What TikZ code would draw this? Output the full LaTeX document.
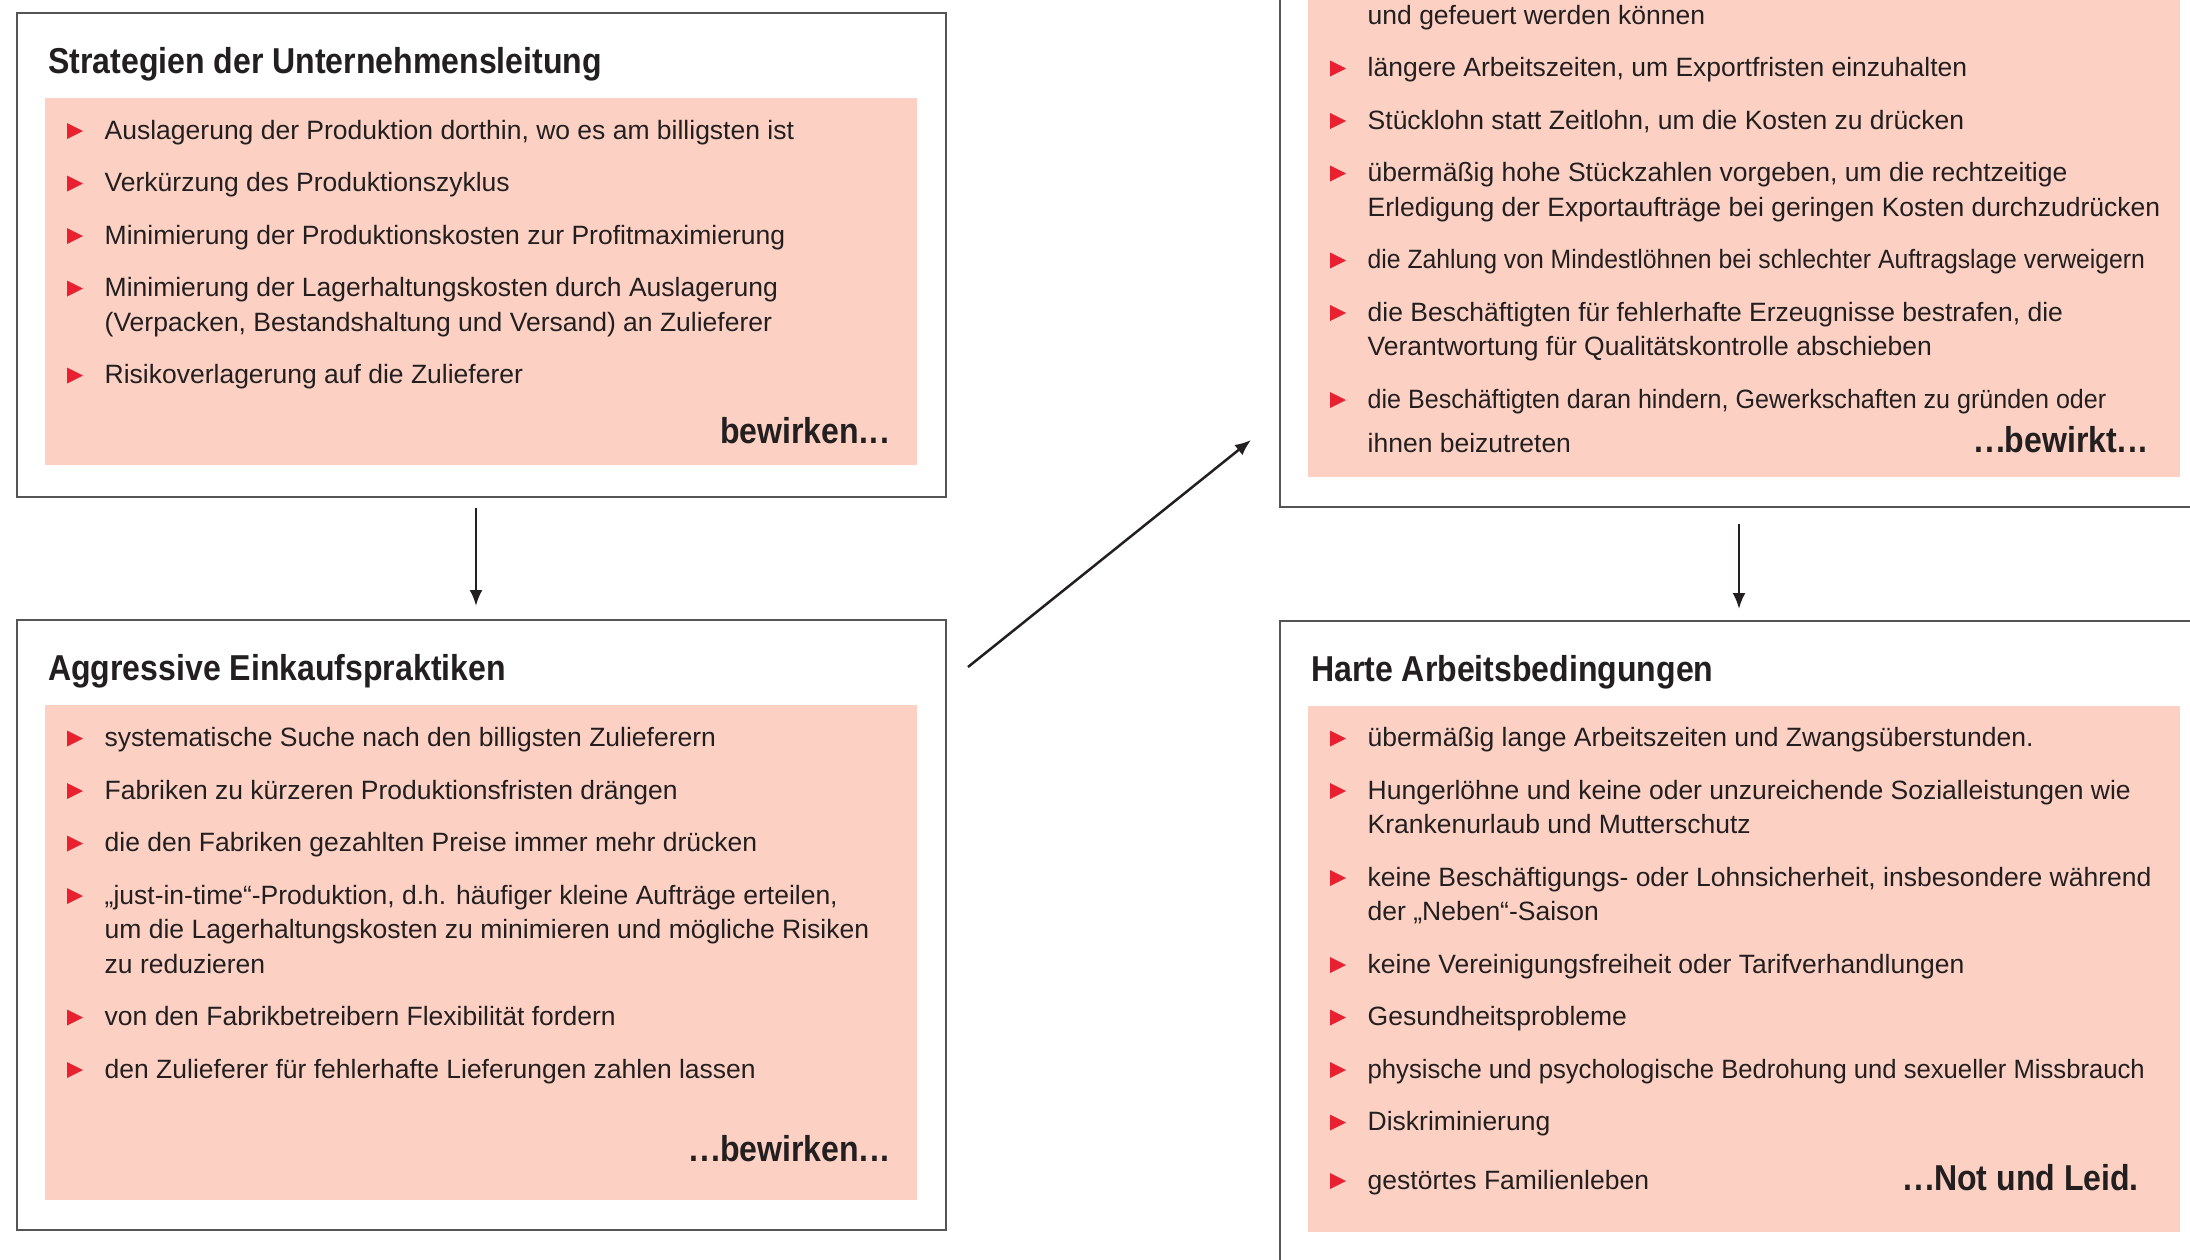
\documentclass[tikz,border=0pt]{standalone}
\usepackage{fontspec}
\usepackage{graphicx}
\setmainfont{Liberation Sans}
\newfontfamily\condfont{Liberation Sans}[FakeStretch=0.89]
\usetikzlibrary{arrows.meta}
\definecolor{pinkfill}{HTML}{FCD1C4}
\definecolor{bulletred}{HTML}{E8202F}
\definecolor{textdark}{HTML}{231F20}
\definecolor{boxgray}{HTML}{555555}
\tikzset{
  outerbox/.style={draw=boxgray, line width=2pt, fill=white, inner sep=0pt, outer sep=0pt, anchor=north west},
  pinkbox/.style={fill=pinkfill, draw=none, inner sep=0pt, outer sep=0pt, anchor=north west},
  heading/.style={font=\condfont\bfseries\fontsize{36pt}{40pt}\selectfont, text=textdark, inner sep=0pt, anchor=base west},
  closing/.style={font=\condfont\bfseries\fontsize{36pt}{40pt}\selectfont, text=textdark, inner sep=0pt, anchor=base east},
  itemtext/.style={font=\fontsize{26.5pt}{34.5pt}\selectfont, text=textdark, inner sep=0pt, anchor=base west},
  flow/.style={draw=textdark, line width=2.5pt, -{Latex[length=16pt,width=13pt]}},
}
\newcommand\spreaddots{.\kern2pt.\kern2pt.}
\newcommand\listentry[4]{%
  \fill[bulletred] (#2,#3) -- ++(0,-16) -- ++(16,8) -- cycle;
  \node[itemtext] (#1) at (#2+37.5,#3) {\begin{tabular}[t]{@{}l@{}}#4\end{tabular}};%
}
\begin{document}
\begin{tikzpicture}[x=1pt,y=-1pt]
\useasboundingbox (0,0) rectangle (2190,1259);
\clip (0,0) rectangle (2190,1259);
\fill[white] (0,0) rectangle (2190,1259);

% ---------- Box 1 ----------
\node[outerbox, minimum width=929pt, minimum height=484pt] (b1) at (17,13) {};
\node[pinkbox, minimum width=872pt, minimum height=367pt] (p1) at (45,98) {};
\node[heading] (t1) at (48,73) {Strategien der Unternehmensleitung};
\listentry{i11}{67}{139}{Auslagerung der Produktion dorthin, wo es am billigsten ist}
\listentry{i12}{67}{191.5}{Verkürzung des Produktionszyklus}
\listentry{i13}{67}{244}{Minimierung der Produktionskosten zur Profitmaximierung}
\listentry{i14}{67}{296.5}{Minimierung der Lagerhaltungskosten durch Auslagerung\\(Verpacken, Bestandshaltung und Versand) an Zulieferer}
\listentry{i15}{67}{383.5}{Risikoverlagerung auf die Zulieferer}
\node[closing] (c1) at (890,443) {bewirken\spreaddots};

% ---------- Box 2 ----------
\node[outerbox, minimum width=929pt, minimum height=610pt] (b2) at (17,620) {};
\node[pinkbox, minimum width=872pt, minimum height=495pt] (p2) at (45,705) {};
\node[heading] (t2) at (48,680) {Aggressive Einkaufspraktiken};
\listentry{i21}{67}{746.5}{systematische Suche nach den billigsten Zulieferern}
\listentry{i22}{67}{799}{Fabriken zu kürzeren Produktionsfristen drängen}
\listentry{i23}{67}{851.5}{die den Fabriken gezahlten Preise immer mehr drücken}
\listentry{i24}{67}{904}{„just-in-time“-Produktion, d.h. häufiger kleine Aufträge erteilen,\\um die Lagerhaltungskosten zu minimieren und mögliche Risiken\\zu reduzieren}
\listentry{i25}{67}{1025.5}{von den Fabrikbetreibern Flexibilität fordern}
\listentry{i26}{67}{1078}{den Zulieferer für fehlerhafte Lieferungen zahlen lassen}
\node[closing] (c2) at (890,1161) {\spreaddots bewirken\spreaddots};

% ---------- Box 3 ----------
\node[outerbox, minimum width=930pt, minimum height=527pt] (b3) at (1280,-20) {};
\node[pinkbox, minimum width=872pt, minimum height=497pt] (p3) at (1308,-20) {};
\node[itemtext] (i30) at (1367.5,24.5) {und gefeuert werden können};
\listentry{i31}{1330}{76.5}{längere Arbeitszeiten, um Exportfristen einzuhalten}
\listentry{i32}{1330}{129}{Stücklohn statt Zeitlohn, um die Kosten zu drücken}
\listentry{i33}{1330}{181.5}{übermäßig hohe Stückzahlen vorgeben, um die rechtzeitige\\Erledigung der Exportaufträge bei geringen Kosten durchzudrücken}
\listentry{i34}{1330}{268.5}{\scalebox{0.934}[1]{die Zahlung von Mindestlöhnen bei schlechter Auftragslage verweigern}}
\listentry{i35}{1330}{321}{die Beschäftigten für fehlerhafte Erzeugnisse bestrafen, die\\Verantwortung für Qualitätskontrolle abschieben}
\listentry{i36}{1330}{408}{\scalebox{0.946}[1]{die Beschäftigten daran hindern, Gewerkschaften zu gründen oder}\\[10pt]ihnen beizutreten}
\node[closing] (c3) at (2148,452) {\spreaddots bewirkt\spreaddots};

% ---------- Box 4 ----------
\node[outerbox, minimum width=930pt, minimum height=660pt] (b4) at (1280,621) {};
\node[pinkbox, minimum width=872pt, minimum height=526pt] (p4) at (1308,706) {};
\node[heading] (t4) at (1311,681) {Harte Arbeitsbedingungen};
\listentry{i41}{1330}{746.5}{übermäßig lange Arbeitszeiten und Zwangsüberstunden.}
\listentry{i42}{1330}{799}{Hungerlöhne und keine oder unzureichende Sozialleistungen wie\\Krankenurlaub und Mutterschutz}
\listentry{i43}{1330}{886}{keine Beschäftigungs- oder Lohnsicherheit, insbesondere während\\der „Neben“-Saison}
\listentry{i44}{1330}{973}{keine Vereinigungsfreiheit oder Tarifverhandlungen}
\listentry{i45}{1330}{1025.5}{Gesundheitsprobleme}
\listentry{i46}{1330}{1078}{\scalebox{0.968}[1]{physische und psychologische Bedrohung und sexueller Missbrauch}}
\listentry{i47}{1330}{1130.5}{Diskriminierung}
\listentry{i48}{1330}{1189}{gestörtes Familienleben}
\node[closing] (c4) at (2139,1190) {\spreaddots Not und Leid.};

% ---------- Connectors ----------
\draw[flow] ([xshift=-5.5pt,yshift=-11pt]b1.south) -- ([xshift=-5.5pt,yshift=14pt]b2.north);
\coordinate (d1) at (968,667);
\coordinate (d2) at (1251,440);
\draw[flow] (d1) -- (d2);
\draw[flow] ([xshift=-6pt,yshift=-17pt]b3.south) -- ([xshift=-6pt,yshift=12pt]b4.north);
\end{tikzpicture}
\end{document}
